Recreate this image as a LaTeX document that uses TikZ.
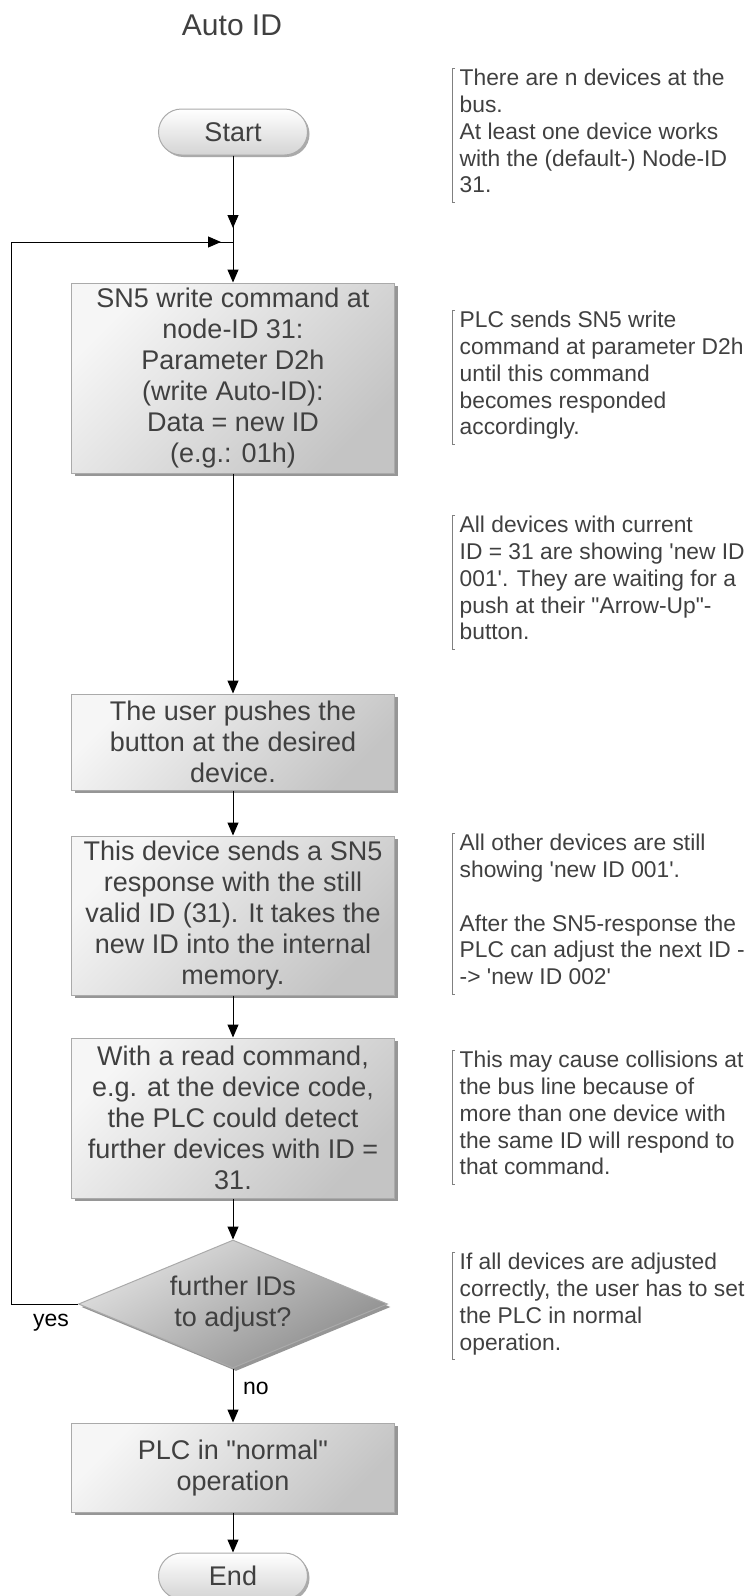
\documentclass[tikz,border=0pt]{standalone}
\usepackage{fontspec}
\setmainfont{Liberation Sans}
\usetikzlibrary{arrows.meta,shapes.geometric,shadows}

\definecolor{txtgray}{RGB}{64,64,64}
\definecolor{boxlight}{RGB}{246,246,246}
\definecolor{boxdark}{RGB}{196,196,196}
\definecolor{edgegray}{RGB}{170,170,170}
\definecolor{shadowgray}{RGB}{150,150,150}
\definecolor{asklight}{RGB}{226,226,226}
\definecolor{askdark}{RGB}{140,140,140}
\definecolor{pilldark}{RGB}{212,212,212}
\definecolor{bracketgray}{RGB}{128,128,128}

\begin{document}
\begin{tikzpicture}[x=10pt,y=-10pt,
	every node/.style={text=txtgray},
	box/.style={rectangle,draw=edgegray,line width=1pt,top color=boxlight,bottom color=boxdark,shading angle=45,
		general shadow={fill=shadowgray,shadow xshift=3pt,shadow yshift=-3pt},
		minimum width=323pt,inner xsep=2pt,inner ysep=1pt,align=center,font=\fontsize{27}{31}\selectfont},
	pill/.style={rectangle,rounded corners=23pt,draw=edgegray,line width=1pt,top color=white,bottom color=pilldark,
		general shadow={fill=edgegray,shadow xshift=2pt,shadow yshift=-2pt},
		minimum width=149pt,minimum height=46pt,inner sep=0pt,font=\fontsize{27}{31}\selectfont},
	ask/.style={diamond,aspect=2.4,draw=edgegray,line width=1pt,top color=asklight,bottom color=askdark,shading angle=30,
		general shadow={fill=shadowgray,shadow xshift=3pt,shadow yshift=-3pt},
		minimum width=309pt,minimum height=128pt,inner sep=0pt,align=center,font=\fontsize{27}{31}\selectfont},
	rem/.style={anchor=north west,align=left,inner xsep=7.5pt,inner ysep=1pt,font=\fontsize{22.8}{26.8}\selectfont,
		execute at begin node=\strut,execute at end node=\strut},
	bracket/.style={draw=bracketgray,line width=.8pt},
	lbl/.style={text=black,font=\fontsize{23}{27}\selectfont},
	flow/.style={-{Triangle[length=13pt,width=11pt]},line width=1pt},
	line/.style={line width=1pt}]
\useasboundingbox (0,0) rectangle (75.3,159.6);

\node (title) at (23.2,2.5) [font=\fontsize{30}{36}\selectfont] {Auto ID};

% flow chart
\node (start) at (23.3,13.2) [pill] {Start};
\coordinate (jn) at (23.3,24.2);
\coordinate (back) at (1.1,24.2);
\node (box1) at (23.3,37.8) [box,minimum height=190pt] {SN5 write command at\\node-ID 31:\\Parameter D2h\\(write Auto-ID):\\Data = new ID\\(e.g.: 01h)};
\node (box2) at (23.3,74.2) [box,minimum height=96pt] {The user pushes the\\button at the desired\\device.};
\node (box3) at (23.3,91.55) [box,minimum height=159pt] {This device sends a SN5\\response with the still\\valid ID (31). It takes the\\new ID into the internal\\memory.};
\node (box4) at (23.3,111.8) [box,minimum height=160pt] {With a read command,\\e.g. at the device code,\\the PLC could detect\\further devices with ID =\\31.};
\node (ask) at (23.3,130.4) [ask] {further IDs\\to adjust?};
\node (box5) at (23.3,146.75) [box,minimum height=89pt] {PLC in \textquotedbl normal\textquotedbl\\operation};
\node (stop) at (23.3,157.6) [pill] {End};

\node (yes) at (5.1,132.3) [lbl] {yes};
\node (no) at (25.6,138.8) [lbl] {no};

\draw[flow] (start) -- ([yshift=14pt]jn);
\draw[flow] (start) -- (box1);
\draw[flow] (box1) -- (box2);
\draw[flow] (box2) -- (box3);
\draw[flow] (box3) -- (box4);
\draw[flow] (box4) -- (ask);
\draw[flow] (ask) -- (box5);
\draw[flow] (box5) -- (stop);
\draw[flow] (ask.west) -| (back) -- ([xshift=-12pt]jn);
\draw[line] (back) -- (jn);

% remarks
\node (rem1) at (45.2,6.8) [rem] {There are n devices at the\\bus.\\At least one device works\\with the (default-) Node-ID\\31.};
\node (rem2) at (45.2,31.0) [rem] {PLC sends SN5 write\\command at parameter D2h\\until this command\\becomes responded\\accordingly.};
\node (rem3) at (45.2,51.5) [rem] {All devices with current\\ID = 31 are showing \textquotesingle new ID\\001\textquotesingle. They are waiting for a\\push at their \textquotedbl Arrow-Up\textquotedbl-\\button.};
\node (rem4) at (45.2,83.3) [rem] {All other devices are still\\showing \textquotesingle new ID 001\textquotesingle.\\[26.8pt]After the SN5-response the\\PLC can adjust the next ID -\\-> \textquotesingle new ID 002\textquotesingle};
\node (rem5) at (45.2,105.0) [rem] {This may cause collisions at\\the bus line because of\\more than one device with\\the same ID will respond to\\that command.};
\node (rem6) at (45.2,125.2) [rem] {If all devices are adjusted\\correctly, the user has to set\\the PLC in normal\\operation.};
\foreach \i in {1,...,6}
	\draw[bracket] (rem\i.north west) ++(3pt,0) -- (rem\i.north west) -- (rem\i.south west) -- ++(3pt,0);
\end{tikzpicture}
\end{document}
